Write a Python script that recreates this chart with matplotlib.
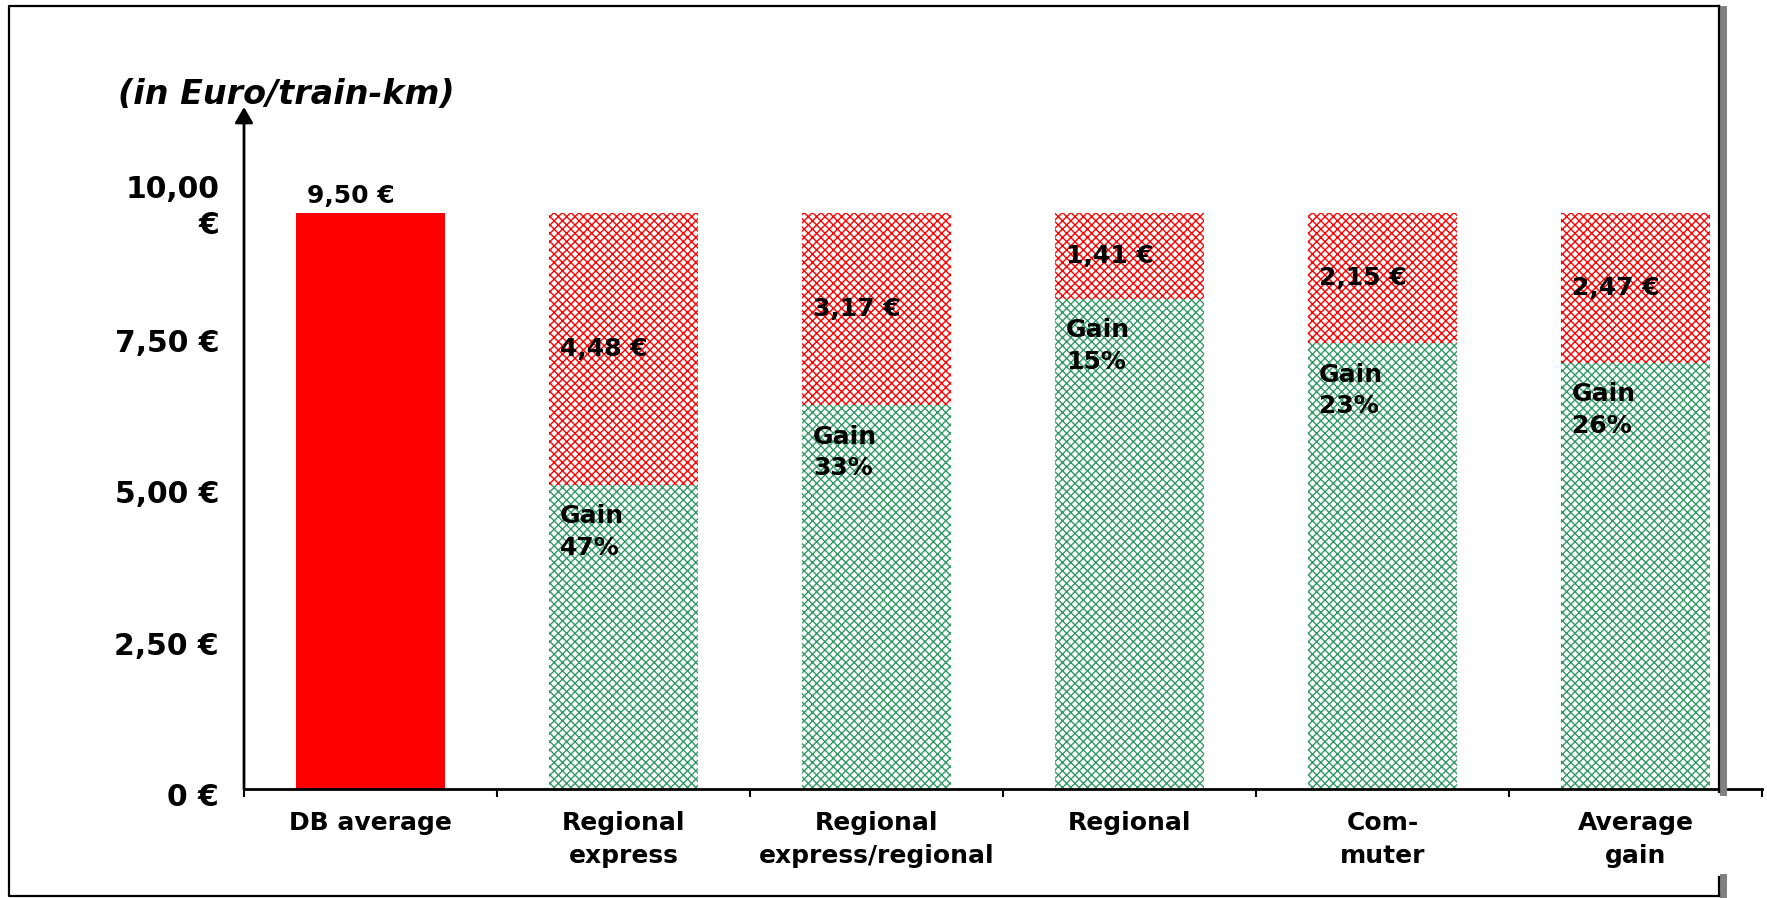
import numpy as np
import matplotlib.pyplot as plt
from matplotlib.lines import Line2D
from matplotlib.transforms import ScaledTranslation

plt.rcParams['font.family'] = 'DejaVu Sans'
plt.rcParams['font.weight'] = 'bold'
plt.rcParams['hatch.linewidth'] = 1.0

# cost per train-km, DB average vs. the single segments
categories = ['DB average', 'Regional\nexpress', 'Regional\nexpress/regional',
              'Regional', 'Com-\nmuter', 'Average\ngain']
db_average = 9.50
savings = [4.48, 3.17, 1.41, 2.15, 2.47]
gains = [47, 33, 15, 23, 26]
yticks = [0, 2.5, 5.0, 7.5, 10.0]
ytick_labels = ['0 €', '2,50 €', '5,00 €', '7,50 €', '10,00\n€']

W, H = 1767, 898
fig = plt.figure(figsize=(W / 100, H / 100), dpi=100)
ax = fig.add_axes([244 / W, 1 - 789 / H, (1762 - 244) / W, (789 - 107) / H])

x = np.arange(len(categories)) + 0.5
width = 0.59
red = '#ff0000'
green = '#339966'

ax.bar(x[0], db_average, width, color=red, linewidth=0)
rest = np.array(savings)
base = db_average - rest
ax.bar(x[1:], base, width, facecolor='white', edgecolor=green, hatch='xxxx', linewidth=0)
ax.bar(x[1:], rest, width, bottom=base, facecolor='white', edgecolor=red, hatch='xxxx', linewidth=0)

fs = 18
left = x - width / 2
ax.annotate(f'{db_average:.2f} €'.replace('.', ','), (left[0], db_average),
            xytext=(8, 4), textcoords='offset points', va='bottom', ha='left', fontsize=fs)
for i, (s, g) in enumerate(zip(savings, gains), start=1):
    ax.annotate(f'{s:.2f} €'.replace('.', ','), (left[i], base[i - 1] + s / 2),
                xytext=(8, 0), textcoords='offset points', va='center', ha='left', fontsize=fs)
    ax.annotate(f'Gain\n{g}%', (left[i], base[i - 1]),
                xytext=(8, -14), textcoords='offset points', va='top', ha='left',
                fontsize=fs, linespacing=1.4)

ax.set_xlim(0, len(categories))
ax.set_ylim(0, 11.25)

# axes: bottom line with boundary ticks, arrow for the value axis
for side in ['top', 'right', 'left']:
    ax.spines[side].set_visible(False)
ax.spines['bottom'].set_linewidth(2)
ax.set_xticks(np.arange(len(categories) + 1))
ax.set_xticklabels([])
ax.set_xticks(x, minor=True)
ax.set_xticklabels(categories, minor=True, fontsize=fs, linespacing=1.45)
ax.tick_params(axis='x', which='major', direction='out', length=6, width=1.5)
ax.tick_params(axis='x', which='minor', length=0, pad=16)
ax.annotate('', xy=(0, 1), xytext=(0, 0), xycoords='axes fraction',
            arrowprops=dict(arrowstyle='-|>,head_length=0.95,head_width=0.55',
                            color='black', lw=2, shrinkA=0, shrinkB=0))

ax.set_yticks(yticks)
ax.set_yticklabels(ytick_labels, fontsize=21.5, linespacing=1.3)
ax.tick_params(axis='y', length=0, pad=18)
for lab in ax.get_yticklabels():
    lab.set_transform(lab.get_transform() + ScaledTranslation(0, -0.06, fig.dpi_scale_trans))
top_lab = ax.get_yticklabels()[-1]
top_lab.set_va('top')
top_lab.set_transform(top_lab.get_transform() + ScaledTranslation(0, 0.135, fig.dpi_scale_trans))

fig.text(118 / W, 1 - 94 / H, '(in Euro/train-km)', fontsize=24, style='italic',
         ha='left', va='center')

# outer frame with shadow on the right
def px_line(xs, ys, **kw):
    fig.add_artist(Line2D([v / W for v in xs], [1 - v / H for v in ys], **kw))

px_line([1723, 1723], [9, 792], color='#808080', lw=5)
px_line([1723, 1723], [877, 898], color='#808080', lw=5)
px_line([1719, 9, 9, 1719], [6, 6, 896, 896], color='black', lw=1.6)
px_line([1719, 1719], [6, 792], color='black', lw=1.6)
px_line([1719, 1719], [877, 896], color='black', lw=1.6)

fig.savefig('out.png', dpi=100)
